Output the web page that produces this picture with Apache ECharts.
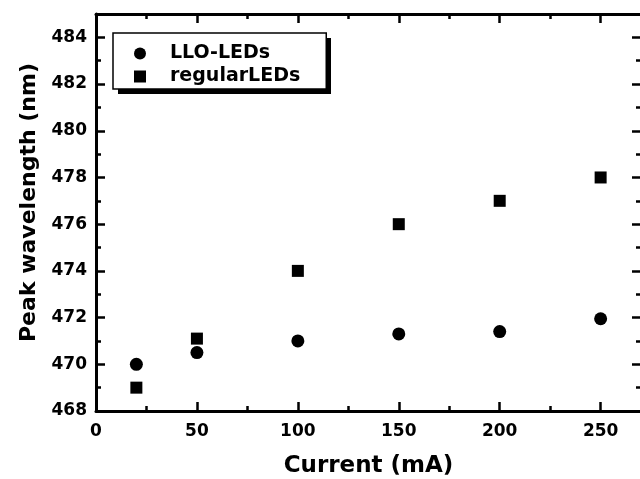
<!DOCTYPE html>
<html>
<head>
<meta charset="utf-8">
<script src="https://cdn.jsdelivr.net/npm/echarts@6/dist/echarts.min.js"></script>
<style>
  html, body { margin: 0; padding: 0; background: #fff; }
  #chart { width: 640px; height: 479px; }
</style>
</head>
<body>
<div id="chart"></div>
<script>
// data
var current = [20, 50, 100, 150, 200, 250]
var lloLeds = [470.0, 470.5, 471.0, 471.3, 471.4, 471.95]
var regularLeds = [469.0, 471.1, 474.0, 476.0, 477.0, 478.0]
var seriesNames = ['LLO-LEDs', 'regularLEDs']

var font = 'DejaVu Sans'
var myChart = echarts.init(document.getElementById('chart'))

function pairs(xs, ys) {
  return xs.map(function (x, i) { return [x, ys[i]] })
}

// shared look for the four box sides
var lineStyle = { color: '#000', width: 3 }
var tickStyle = { color: '#000', width: 2.5 }
var minorStyle = { color: '#000', width: 2.5 }

myChart.setOption({
  animation: false,
  backgroundColor: '#fff',
  grid: { left: 96, right: -1, top: 14, bottom: 68, outerBoundsMode: 'none' },
  // solid drop shadow behind the legend box
  graphic: [{
    type: 'rect', z: 3, silent: true,
    shape: { x: 118, y: 38, width: 213, height: 56 },
    style: { fill: '#000' }
  }],
  legend: {
    data: seriesNames,
    orient: 'vertical',
    left: 113,
    top: 33,
    z: 5,
    padding: [11, 26, 3, 21],
    itemGap: 4,
    itemWidth: 12,
    itemHeight: 12,
    backgroundColor: '#fff',
    borderColor: '#000',
    borderWidth: 1.5,
    textStyle: {
      fontFamily: font, fontWeight: 'bold', fontSize: 19, color: '#000',
      padding: [0, 0, 0, 19]
    }
  },
  xAxis: [
    {
      type: 'value', min: 0, max: 270, interval: 50,
      name: 'Current (mA)', nameLocation: 'middle', nameGap: 44,
      nameTextStyle: { fontFamily: font, fontWeight: 'bold', fontSize: 23, color: '#000' },
      axisLine: { onZero: false, lineStyle: lineStyle },
      axisTick: { inside: true, length: 9, lineStyle: tickStyle },
      minorTick: { show: true, splitNumber: 2, length: 5, lineStyle: minorStyle },
      axisLabel: { margin: 12, showMaxLabel: false, fontFamily: font, fontWeight: 'bold', fontSize: 17, color: '#000' },
      splitLine: { show: false }
    },
    {
      type: 'value', position: 'top', min: 0, max: 270, interval: 50,
      axisLine: { show: true, onZero: false, lineStyle: lineStyle },
      axisTick: { show: true, inside: true, length: 9, lineStyle: tickStyle },
      minorTick: { show: true, splitNumber: 2, length: 5, lineStyle: minorStyle },
      axisLabel: { show: false },
      splitLine: { show: false }
    }
  ],
  yAxis: [
    {
      type: 'value', min: 468, max: 485, interval: 2,
      name: 'Peak wavelength (nm)', nameLocation: 'middle', nameGap: 46,
      nameTextStyle: {
        fontFamily: font, fontWeight: 'bold', fontSize: 22, color: '#000',
        padding: [0, 0, 0, 20]
      },
      axisLine: { show: true, onZero: false, lineStyle: lineStyle },
      axisTick: { show: true, inside: true, length: 9, lineStyle: tickStyle },
      minorTick: { show: true, splitNumber: 2, length: 5, lineStyle: minorStyle },
      axisLabel: { margin: 9, showMaxLabel: false, fontFamily: font, fontWeight: 'bold', fontSize: 17, color: '#000' },
      splitLine: { show: false }
    },
    {
      type: 'value', position: 'right', min: 468, max: 485, interval: 2,
      axisLine: { show: true, onZero: false, lineStyle: lineStyle },
      axisTick: { show: true, inside: true, length: 9, lineStyle: tickStyle },
      minorTick: { show: true, splitNumber: 2, length: 5, lineStyle: minorStyle },
      axisLabel: { show: false },
      splitLine: { show: false }
    }
  ],
  series: [
    {
      name: seriesNames[0], type: 'scatter', symbol: 'circle', symbolSize: 13,
      itemStyle: { color: '#000', opacity: 1 },
      data: pairs(current, lloLeds)
    },
    {
      name: seriesNames[1], type: 'scatter', symbol: 'rect', symbolSize: 12,
      itemStyle: { color: '#000', opacity: 1 },
      data: pairs(current, regularLeds)
    }
  ]
})
</script>
</body>
</html>
